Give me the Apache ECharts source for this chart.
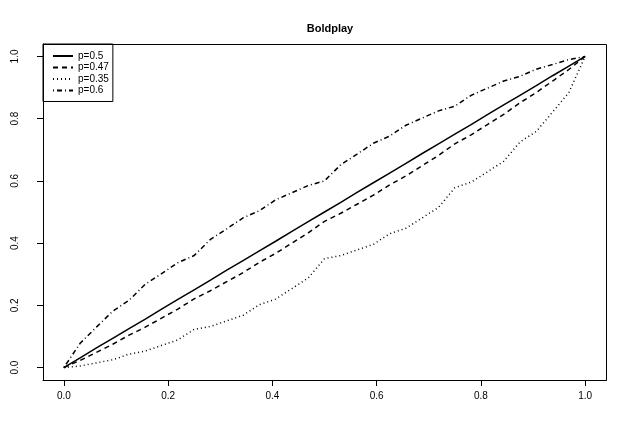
<!DOCTYPE html>
<html>
<head>
<meta charset="utf-8">
<script src="https://cdn.jsdelivr.net/npm/echarts@6/dist/echarts.min.js"></script>
<style>
html,body{margin:0;padding:0;background:#fff;}
#c{width:629px;height:437px;}
</style>
</head>
<body>
<div id="c"></div>
<script>
var xs = [0,0.03125,0.0625,0.09375,0.125,0.15625,0.1875,0.21875,0.25,0.28125,0.3125,0.34375,0.375,0.40625,0.4375,0.46875,0.5,0.53125,0.5625,0.59375,0.625,0.65625,0.6875,0.71875,0.75,0.78125,0.8125,0.84375,0.875,0.90625,0.9375,0.96875,1];
var p050 = [0,0.031,0.063,0.094,0.125,0.156,0.188,0.219,0.25,0.281,0.313,0.344,0.375,0.406,0.438,0.469,0.5,0.531,0.563,0.594,0.625,0.656,0.688,0.719,0.75,0.781,0.813,0.844,0.875,0.906,0.938,0.969,1];
var p047 = [0,0.023,0.049,0.075,0.104,0.130,0.159,0.188,0.221,0.247,0.276,0.305,0.338,0.367,0.400,0.433,0.470,0.496,0.525,0.554,0.587,0.616,0.649,0.682,0.719,0.748,0.781,0.814,0.851,0.884,0.921,0.958,1];
var p035 = [0,0.005,0.015,0.025,0.043,0.053,0.071,0.089,0.123,0.132,0.150,0.168,0.202,0.220,0.254,0.288,0.350,0.360,0.378,0.396,0.430,0.448,0.481,0.515,0.578,0.596,0.629,0.663,0.725,0.759,0.821,0.884,1];
var p060 = [0,0.078,0.130,0.181,0.216,0.268,0.302,0.337,0.360,0.412,0.446,0.481,0.504,0.539,0.562,0.585,0.600,0.652,0.686,0.721,0.744,0.779,0.802,0.825,0.840,0.875,0.898,0.921,0.936,0.959,0.974,0.990,1];
var names = ['p=0.5','p=0.47','p=0.35','p=0.6'];
var xTicks = [0,0.2,0.4,0.6,0.8,1.0];
var yTicks = [0,0.2,0.4,0.6,0.8,1.0];

function pairs(ys){ return xs.map(function(x,i){ return [x, ys[i]]; }); }

var chart = echarts.init(document.getElementById('c'), null, {renderer:'canvas'});
var font = 'Liberation Sans, Arial, Helvetica, sans-serif';
var dashes = ['solid',[5,4],[1,3],[1,3,5,3]];
var allData = [p050,p047,p035,p060];
chart.setOption({
  animation:false,
  backgroundColor:'#ffffff',
  title:{text:'Boldplay',left:325,top:18,textAlign:'center',
    textStyle:{fontFamily:font,fontSize:11,fontWeight:'bold',color:'#000'}},
  grid:{left:43,right:23,top:44,bottom:57,containLabel:false,show:false},
  xAxis:{type:'value',min:-0.04,max:1.04,
    axisLine:{show:true,onZero:false,lineStyle:{color:'#000',width:1}},splitLine:{show:false},
    axisTick:{show:true,length:6,customValues:xTicks,lineStyle:{color:'#000',width:1}},
    axisLabel:{margin:11,customValues:xTicks,fontFamily:font,fontSize:10,color:'#000',
      formatter:function(v){ return v.toFixed(1); }}},
  yAxis:{type:'value',min:-0.04,max:1.04,
    axisLine:{show:true,onZero:false,lineStyle:{color:'#000',width:1}},splitLine:{show:false},
    axisTick:{show:true,length:6,customValues:yTicks,lineStyle:{color:'#000',width:1}},
    axisLabel:{rotate:90,margin:23,customValues:yTicks,fontFamily:font,fontSize:10,color:'#000',
      formatter:function(v){ return v.toFixed(1); }}},
  legend:{orient:'vertical',left:43,top:44,data:names,
    borderColor:'#000',borderWidth:1,borderRadius:0,padding:[7,4,6,9],
    itemWidth:20,itemHeight:10,itemGap:1.5,
    itemStyle:{opacity:0},
    textStyle:{fontFamily:font,fontSize:10,color:'#000'}},
  graphic:[{type:'rect',shape:{x:43.5,y:44.5,width:563,height:336},
    style:{fill:null,stroke:'#000',lineWidth:1},silent:true,z:100}],
  series:names.map(function(n,i){
    return {name:n,type:'line',data:pairs(allData[i]),showSymbol:false,symbol:'none',
      lineStyle:{color:'#000',width:1.5,type:dashes[i]},itemStyle:{color:'#000'}};
  })
});
</script>
</body>
</html>
